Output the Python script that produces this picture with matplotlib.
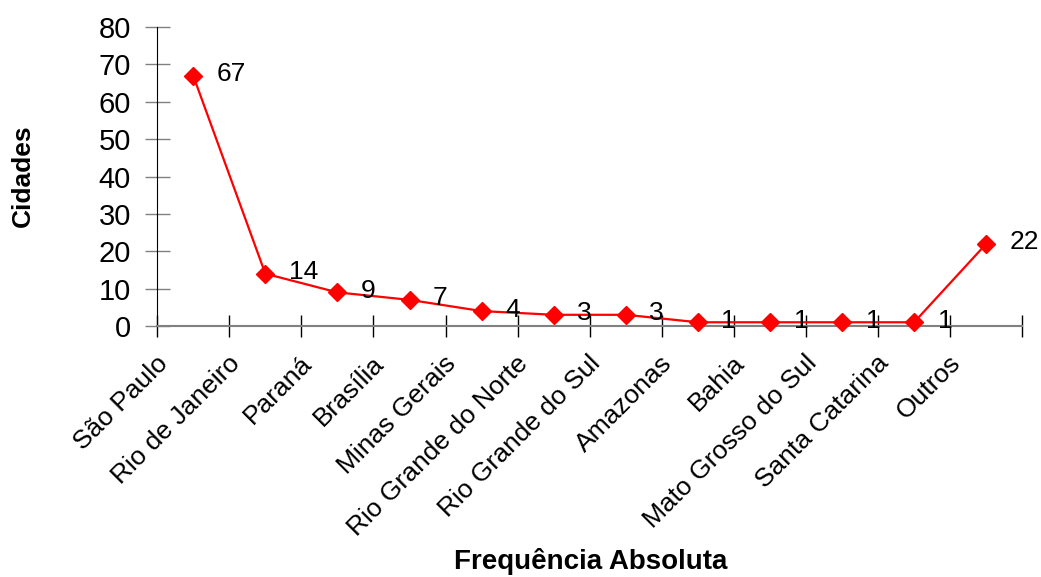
import matplotlib
matplotlib.use("Agg")
import matplotlib.pyplot as plt
from matplotlib import font_manager
from matplotlib.transforms import ScaledTranslation

# Data
estados = ["São Paulo", "Rio de Janeiro", "Paraná", "Brasília", "Minas Gerais",
           "Rio Grande do Norte", "Rio Grande do Sul", "Amazonas", "Bahia",
           "Mato Grosso do Sul", "Santa Catarina", "Outros"]
cidades = [67, 14, 9, 7, 4, 3, 3, 1, 1, 1, 1, 22]
y_ticks = [0, 10, 20, 30, 40, 50, 60, 70, 80]

installed = {f.name for f in font_manager.fontManager.ttflist}
base = "Liberation Sans" if "Liberation Sans" in installed else "DejaVu Sans"
narrow = "Liberation Sans Narrow" if "Liberation Sans Narrow" in installed else base
plt.rcParams["font.family"] = [base, "DejaVu Sans"]

fig = plt.figure(figsize=(10.41, 5.77), dpi=100)
ax = fig.add_axes([0.151, 0.435, 0.831, 0.518])

x = list(range(len(estados)))
ax.plot(x, cidades, color="#ff0000", lw=1.6, marker="D", markersize=9,
        markeredgecolor="#ff0000", markerfacecolor="#ff0000", zorder=3,
        clip_on=False)

for xi, v in zip(x, cidades):
    ax.annotate(str(v), (xi, v), xytext=(17, 1), textcoords="offset points",
                ha="left", va="center", fontsize=19)

ax.set_xlim(-0.5, len(estados) - 0.5)
ax.set_ylim(0, 80)
ax.set_yticks(y_ticks)
ax.set_yticklabels([str(t) for t in y_ticks], fontsize=21)

ax.set_xticks(x)
ax.set_xticklabels(estados, rotation=45, ha="right", rotation_mode="anchor",
                   fontsize=19)
ax.tick_params(axis="x", which="major", length=0, pad=18)
shift = ScaledTranslation(-38 / 100, 0, fig.dpi_scale_trans)
for lbl in ax.get_xticklabels():
    lbl.set_transform(lbl.get_transform() + shift)
ax.set_xticks([i - 0.5 for i in range(len(estados) + 1)], minor=True)
ax.tick_params(axis="x", which="minor", direction="inout", length=16,
               width=1, color="black")
ax.tick_params(axis="y", direction="inout", length=18, width=1,
               color="#808080", pad=10)

for side in ("top", "right"):
    ax.spines[side].set_visible(False)
ax.spines["left"].set_color("black")
ax.spines["bottom"].set_color("#808080")
ax.spines["bottom"].set_linewidth(1.5)

fig.text(0.022, 0.695, "Cidades", rotation=90, ha="center", va="center",
         fontsize=19, fontweight="bold", family=narrow)
fig.text(0.567, 0.014, "Frequência Absoluta", ha="center", va="baseline",
         fontsize=20, fontweight="bold")

fig.savefig("out.png", dpi=100)
